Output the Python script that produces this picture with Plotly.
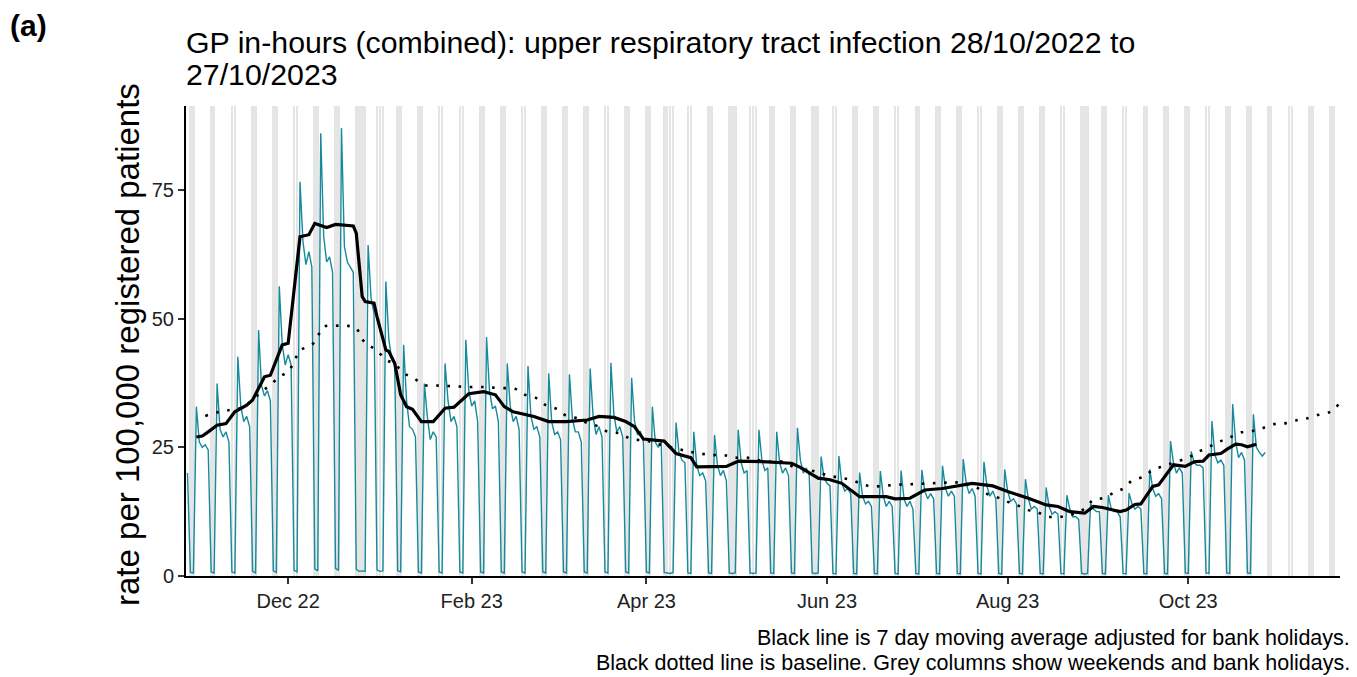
import pandas as pd
import plotly.graph_objects as go

# daily rate per 100,000, one row per week (Mon..Sun); first row is Fri 28/10/2022 - Sun 30/10/2022
rate_weeks = [
    [20.0, 0.7, 0.6],
    [32.9, 26.0, 25.0, 25.5, 24.5, 0.8, 0.6],
    [37.4, 28.5, 27.0, 28.0, 26.0, 0.8, 0.6],
    [42.6, 33.0, 30.0, 31.0, 29.0, 0.9, 0.6],
    [47.8, 37.0, 35.0, 36.0, 34.0, 1.0, 0.7],
    [56.3, 45.0, 41.0, 43.0, 41.0, 1.1, 0.8],
    [76.6, 65.0, 60.5, 63.0, 60.0, 1.4, 1.0],
    [86.0, 66.0, 61.0, 62.0, 59.0, 1.5, 1.1],
    [87.0, 64.0, 61.0, 60.0, 59.0, 1.3, 0.9],
    [1.0, 0.9, 64.3, 54.0, 51.0, 1.2, 0.9],
    [1.0, 57.2, 46.0, 42.0, 41.0, 1.0, 0.8],
    [44.9, 34.0, 29.0, 28.5, 27.0, 0.8, 0.6],
    [37.4, 31.0, 26.5, 28.0, 27.0, 0.8, 0.6],
    [41.3, 34.0, 30.0, 31.0, 29.0, 0.8, 0.6],
    [45.9, 36.0, 33.0, 34.0, 30.0, 0.8, 0.6],
    [46.4, 36.0, 32.5, 33.0, 30.0, 0.8, 0.6],
    [41.3, 33.0, 30.0, 31.0, 28.5, 0.8, 0.6],
    [40.8, 31.0, 28.5, 29.0, 27.0, 0.8, 0.6],
    [39.4, 30.0, 27.5, 28.0, 26.5, 0.8, 0.6],
    [39.2, 30.5, 28.0, 28.0, 26.0, 0.8, 0.6],
    [40.3, 31.0, 27.5, 29.0, 27.0, 0.8, 0.6],
    [41.4, 31.5, 28.0, 29.0, 27.0, 0.8, 0.6],
    [38.5, 30.0, 27.5, 28.0, 26.0, 0.8, 0.6],
    [32.9, 26.0, 25.0, 26.0, 0.7, 0.6, 0.5],
    [0.7, 29.8, 24.0, 22.5, 22.0, 0.6, 0.5],
    [28.0, 21.5, 19.5, 20.0, 18.5, 0.6, 0.5],
    [27.4, 21.5, 19.5, 20.5, 18.5, 0.6, 0.5],
    [0.6, 28.4, 22.0, 20.0, 20.5, 0.6, 0.5],
    [0.6, 28.4, 22.5, 20.5, 21.0, 0.6, 0.5],
    [28.0, 22.0, 20.0, 21.0, 19.5, 0.6, 0.5],
    [28.8, 22.5, 20.0, 21.0, 19.5, 0.6, 0.5],
    [0.6, 23.2, 19.0, 18.0, 17.5, 0.5, 0.4],
    [23.3, 18.0, 16.5, 17.0, 16.0, 0.5, 0.4],
    [20.1, 15.5, 14.0, 14.5, 13.5, 0.5, 0.4],
    [20.4, 15.5, 13.5, 14.5, 13.5, 0.5, 0.4],
    [20.5, 15.0, 13.5, 14.5, 13.0, 0.5, 0.4],
    [20.6, 16.5, 15.0, 16.0, 15.0, 0.5, 0.4],
    [21.4, 17.0, 15.5, 16.5, 15.5, 0.5, 0.4],
    [22.7, 18.0, 16.0, 17.0, 15.5, 0.5, 0.4],
    [22.2, 17.5, 15.5, 16.5, 15.0, 0.5, 0.4],
    [20.7, 16.5, 14.5, 15.0, 14.0, 0.5, 0.4],
    [18.8, 15.0, 13.0, 13.5, 13.0, 0.5, 0.4],
    [17.2, 13.5, 12.0, 12.5, 12.0, 0.5, 0.4],
    [15.7, 13.0, 11.5, 11.5, 11.0, 0.5, 0.4],
    [0.5, 14.1, 13.0, 12.5, 12.5, 0.5, 0.4],
    [15.7, 13.0, 12.5, 12.5, 11.5, 0.5, 0.4],
    [16.1, 14.0, 13.0, 13.5, 13.0, 0.5, 0.4],
    [20.7, 17.0, 15.5, 16.0, 15.0, 0.5, 0.4],
    [26.2, 22.0, 20.0, 21.0, 20.0, 0.6, 0.5],
    [24.2, 22.0, 21.5, 21.5, 21.0, 0.6, 0.5],
    [30.1, 23.5, 22.0, 22.5, 21.5, 0.6, 0.5],
    [33.4, 26.0, 23.0, 24.0, 22.5, 0.6, 0.5],
    [31.4, 25.0, 24.0, 23.3, 24.0],
]
rate = [v for week in rate_weeks for v in week]
rate_dates = pd.date_range("2022-10-28", periods=len(rate), freq="D")

# 7 day moving average (black line)
ma_dates = [
    "2022-10-31", "2022-11-02", "2022-11-04", "2022-11-07", "2022-11-10", "2022-11-13",
    "2022-11-17", "2022-11-19", "2022-11-23", "2022-11-25", "2022-11-29", "2022-12-01",
    "2022-12-05", "2022-12-08", "2022-12-10", "2022-12-14", "2022-12-17", "2022-12-23",
    "2022-12-24", "2022-12-26", "2022-12-27", "2022-12-30", "2022-12-31", "2023-01-03",
    "2023-01-04", "2023-01-06", "2023-01-08", "2023-01-10", "2023-01-12", "2023-01-15",
    "2023-01-19", "2023-01-23", "2023-01-26", "2023-01-31", "2023-02-05", "2023-02-09",
    "2023-02-12", "2023-02-15", "2023-02-22", "2023-02-27", "2023-03-05", "2023-03-12",
    "2023-03-16", "2023-03-21", "2023-03-25", "2023-03-28", "2023-03-31", "2023-04-07",
    "2023-04-11", "2023-04-16", "2023-04-18", "2023-04-28", "2023-05-02", "2023-05-10",
    "2023-05-20", "2023-05-23", "2023-05-29", "2023-06-02", "2023-06-06", "2023-06-12",
    "2023-06-21", "2023-06-24", "2023-06-29", "2023-07-04", "2023-07-10", "2023-07-17",
    "2023-07-20", "2023-07-27", "2023-08-01", "2023-08-08", "2023-08-14", "2023-08-18",
    "2023-08-22", "2023-08-27", "2023-08-30", "2023-09-02", "2023-09-08", "2023-09-10",
    "2023-09-13", "2023-09-15", "2023-09-19", "2023-09-21", "2023-09-26", "2023-09-30",
    "2023-10-03", "2023-10-06", "2023-10-08", "2023-10-12", "2023-10-14", "2023-10-17",
    "2023-10-19", "2023-10-21", "2023-10-24",
]
ma_values = [
    27.0, 27.2, 28.0, 29.3, 29.6, 31.9,
    33.2, 34.2, 38.7, 39.0, 44.9, 45.2,
    65.9, 66.3, 68.5, 67.7, 68.3, 68.0,
    66.6, 54.3, 53.3, 53.0, 50.4, 43.9,
    43.6, 41.3, 35.2, 32.9, 32.4, 30.0,
    30.0, 32.6, 32.8, 35.4, 35.8, 35.2,
    32.9, 31.9, 31.0, 30.0, 30.0, 30.3,
    31.0, 30.8, 30.0, 29.0, 26.6, 26.2,
    23.8, 23.0, 21.2, 21.3, 22.3, 22.2,
    21.9, 21.1, 19.0, 18.7, 18.0, 15.4,
    15.4, 15.0, 15.1, 16.7, 17.0, 17.7,
    18.0, 17.5, 16.4, 15.1, 13.8, 13.5,
    12.5, 12.2, 13.5, 13.3, 12.5, 12.8,
    13.9, 14.0, 17.4, 17.7, 21.6, 21.3,
    22.2, 22.3, 23.5, 23.8, 24.6, 25.6,
    25.5, 25.1, 25.6,
]

# baseline (black dotted line)
base_dates = [
    "2022-11-03", "2022-11-08", "2022-11-12", "2022-11-15", "2022-11-19", "2022-11-22",
    "2022-11-25", "2022-11-28", "2022-12-01", "2022-12-03", "2022-12-05", "2022-12-09",
    "2022-12-11", "2022-12-13", "2022-12-17", "2022-12-21", "2022-12-24", "2022-12-26",
    "2022-12-28", "2022-12-31", "2023-01-03", "2023-01-06", "2023-01-09", "2023-01-12",
    "2023-01-16", "2023-01-20", "2023-01-24", "2023-01-28", "2023-02-01", "2023-02-05",
    "2023-02-08", "2023-02-12", "2023-02-16", "2023-02-19", "2023-02-23", "2023-02-26",
    "2023-03-02", "2023-03-05", "2023-03-09", "2023-03-12", "2023-03-16", "2023-03-19",
    "2023-03-23", "2023-03-27", "2023-04-01", "2023-04-05", "2023-04-11", "2023-04-15",
    "2023-04-19", "2023-04-23", "2023-04-27", "2023-05-01", "2023-05-05", "2023-05-09",
    "2023-05-13", "2023-05-17", "2023-05-21", "2023-05-25", "2023-05-28", "2023-06-01",
    "2023-06-05", "2023-06-09", "2023-06-13", "2023-06-16", "2023-06-20", "2023-06-24",
    "2023-06-28", "2023-07-02", "2023-07-06", "2023-07-10", "2023-07-14", "2023-07-17",
    "2023-07-21", "2023-07-24", "2023-07-28", "2023-08-01", "2023-08-04", "2023-08-08",
    "2023-08-11", "2023-08-15", "2023-08-19", "2023-08-23", "2023-08-27", "2023-08-30",
    "2023-09-02", "2023-09-06", "2023-09-09", "2023-09-12", "2023-09-16", "2023-09-19",
    "2023-09-23", "2023-09-27", "2023-10-01", "2023-10-04", "2023-10-08", "2023-10-12",
    "2023-10-15", "2023-10-19", "2023-10-23", "2023-10-26", "2023-10-30", "2023-11-03",
    "2023-11-07", "2023-11-10", "2023-11-14", "2023-11-18", "2023-11-21",
]
base_values = [
    31.1, 31.9, 32.3, 32.6, 34.2, 35.8,
    37.1, 38.7, 39.7, 41.6, 43.8, 44.9,
    46.6, 48.4, 48.6, 48.6, 48.1, 46.0,
    44.9, 43.8, 42.0, 41.2, 39.4, 38.6,
    37.1, 37.0, 36.9, 36.8, 36.7, 36.7,
    36.6, 36.5, 36.3, 35.2, 34.5, 33.2,
    32.4, 31.1, 30.6, 29.7, 29.0, 28.0,
    27.7, 26.6, 26.3, 25.6, 24.8, 24.2,
    23.8, 23.5, 23.5, 23.0, 23.0, 22.5,
    22.2, 22.2, 21.1, 20.7, 20.3, 19.6,
    19.1, 18.7, 17.8, 17.4, 17.5, 17.7,
    17.8, 17.9, 18.0, 18.1, 18.2, 18.0,
    17.4, 16.2, 15.4, 14.4, 13.8, 12.8,
    12.4, 11.5, 11.5, 12.0, 13.1, 14.8,
    15.1, 16.2, 17.0, 18.5, 19.3, 20.6,
    21.4, 22.2, 23.0, 24.0, 25.1, 26.2,
    26.9, 27.9, 28.2, 28.7, 29.5, 29.7,
    30.3, 30.6, 31.3, 31.9, 33.5,
]

bank_holidays = [
    "2022-12-26", "2022-12-27", "2023-01-02", "2023-04-07", "2023-04-10",
    "2023-05-01", "2023-05-08", "2023-05-29", "2023-08-28",
]
tick_dates = ["2022-12-01", "2023-02-01", "2023-04-01", "2023-06-01", "2023-08-01", "2023-10-01"]
tick_labels = ["Dec 22", "Feb 23", "Apr 23", "Jun 23", "Aug 23", "Oct 23"]

Y_TOP = 91.3
FONT = "Liberation Sans, Arial, sans-serif"

all_days = pd.date_range("2022-10-28", "2023-11-21", freq="D")
grey_days = sorted(set(all_days[all_days.dayofweek >= 5]) | set(pd.to_datetime(bank_holidays)))

fig = go.Figure()

# grey columns: weekends and bank holidays
fig.add_trace(go.Bar(
    x=grey_days, y=[Y_TOP] * len(grey_days), width=0.9 * 86400000,
    marker=dict(color="#e5e5e5", line=dict(width=0)), hoverinfo="skip",
))
fig.add_trace(go.Scatter(
    x=rate_dates, y=rate, mode="lines",
    line=dict(color="#168a9c", width=1.4),
))
fig.add_trace(go.Scatter(
    x=pd.to_datetime(base_dates), y=base_values, mode="lines",
    line=dict(color="black", width=2.6, dash="2.6px,8.6px", shape="spline"),
))
fig.add_trace(go.Scatter(
    x=pd.to_datetime(ma_dates), y=ma_values, mode="lines",
    line=dict(color="black", width=3.2),
))

# plot area in screen pixels; the page body adds an 8px margin, so the figure is 8px smaller
L, R, T, B = 186, 1340, 106, 576
OFF = 8
px = lambda v: (v - L) / (R - L)
py = lambda v: (B - v) / (B - T)

fig.update_layout(
    width=1357 - OFF, height=677 - OFF,
    margin=dict(l=L - OFF, r=1357 - R, t=T - OFF, b=677 - B),
    plot_bgcolor="white", paper_bgcolor="white",
    showlegend=False, bargap=0,
    font=dict(family=FONT, color="black"),
    annotations=[
        dict(text="<b>(a)</b>", x=px(8), y=py(26), xanchor="left", yanchor="middle",
             font=dict(size=30)),
        dict(text="GP in-hours (combined): upper respiratory tract infection 28/10/2022 to",
             x=px(184), y=py(42), xanchor="left", yanchor="middle", font=dict(size=30.3)),
        dict(text="27/10/2023", x=px(184), y=py(75), xanchor="left", yanchor="middle",
             font=dict(size=30.3)),
        dict(text="rate per 100,000 registered patients", x=px(127), y=py(345),
             xanchor="center", yanchor="middle", textangle=-90, font=dict(size=33)),
        dict(text="Black line is 7 day moving average adjusted for bank holidays.",
             x=px(1352), y=py(638), xanchor="right", yanchor="middle", font=dict(size=21.5)),
        dict(text="Black dotted line is baseline. Grey columns show weekends and bank holidays.",
             x=px(1352), y=py(663), xanchor="right", yanchor="middle", font=dict(size=21.5)),
    ],
)
for a in fig.layout.annotations:
    a.xref = "paper"
    a.yref = "paper"
    a.showarrow = False

fig.update_xaxes(
    type="date", range=["2022-10-27 12:00", "2023-11-21 06:00"],
    tickvals=pd.to_datetime(tick_dates), ticktext=tick_labels,
    showgrid=False, zeroline=False, showline=True, linecolor="black", linewidth=2,
    ticks="outside", ticklen=6, tickwidth=1.5, tickcolor="#333333",
    tickfont=dict(size=20, color="#222222"),
)
fig.update_yaxes(
    range=[0, Y_TOP], tickvals=[0, 25, 50, 75],
    showgrid=False, zeroline=False, showline=True, linecolor="black", linewidth=2,
    ticks="outside", ticklen=6, tickwidth=1.5, tickcolor="#333333",
    tickfont=dict(size=20, color="#222222"),
)

fig.write_html("out.html")
